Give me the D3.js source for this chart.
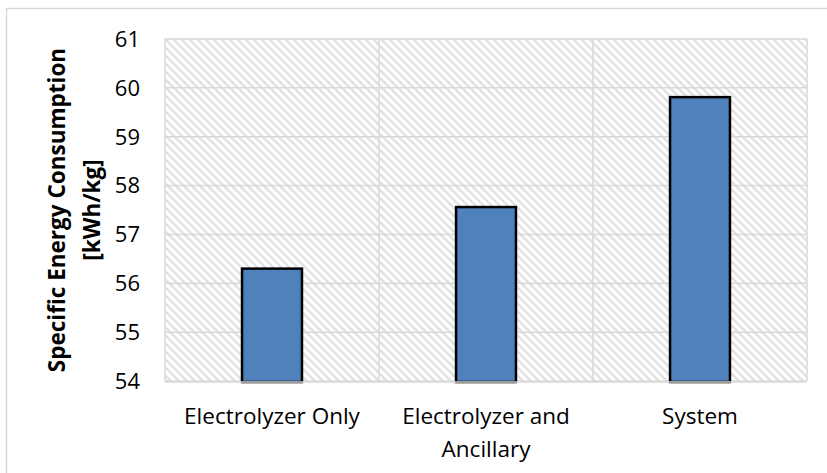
<!DOCTYPE html>
<html>
<head>
<meta charset="utf-8">
<script src="https://cdn.jsdelivr.net/npm/d3@7"></script>
<style>
  html, body { margin: 0; padding: 0; background: #fff; }
  svg { display: block; }
  text { font-family: "Open Sans", "Noto Sans", sans-serif; fill: #000; }
</style>
</head>
<body>
<svg id="chart" width="827" height="473"></svg>
<script>
const categories = [["Electrolyzer Only"], ["Electrolyzer and", "Ancillary"], ["System"]];
const values = [56.30, 57.56, 59.81];
const yTicks = [54, 55, 56, 57, 58, 59, 60, 61];
const yTitle = ["Specific Energy Consumption", "[kWh/kg]"];

const svg = d3.select("#chart");
const W = 827, H = 473;
const m = { left: 165, right: 20, top: 39, bottom: 92 };
const pw = W - m.left - m.right, ph = H - m.top - m.bottom;

// outer chart border
svg.append("rect").attr("x", 6.5).attr("y", 8.5).attr("width", 830).attr("height", 480)
  .attr("fill", "#fff").attr("stroke", "#d9d9d9").attr("stroke-width", 1.5);

const defs = svg.append("defs");
const pat = defs.append("pattern").attr("id", "hatch").attr("patternUnits", "userSpaceOnUse")
  .attr("width", 8).attr("height", 8);
pat.append("rect").attr("width", 8).attr("height", 8).attr("fill", "#fff");
pat.append("path").attr("d", "M-2,-2 L10,10 M-2,6 L2,10 M6,-2 L10,2")
  .attr("stroke", "#e2e2e2").attr("stroke-width", 2.6);

const g = svg.append("g").attr("transform", `translate(${m.left},${m.top})`);

const x = d3.scaleBand().domain(d3.range(categories.length)).range([0, pw])
  .paddingInner(0.72).paddingOuter(0.36);
const y = d3.scaleLinear().domain([54, 61]).range([ph, 0]);

g.append("rect").attr("width", pw).attr("height", ph).attr("fill", "url(#hatch)");

// horizontal gridlines
g.selectAll(".hg").data(yTicks).join("line")
  .attr("x1", 0).attr("x2", pw).attr("y1", d => y(d)).attr("y2", d => y(d))
  .attr("stroke", "#d9d9d9").attr("stroke-width", 1.5);
// vertical gridlines (category boundaries)
const step = x.step();
g.selectAll(".vg").data(d3.range(categories.length + 1)).join("line")
  .attr("x1", d => d * step).attr("x2", d => d * step).attr("y1", 0).attr("y2", ph)
  .attr("stroke", "#d9d9d9").attr("stroke-width", 1.5);

// bars
const bars = g.append("g");
bars.selectAll("rect").data(values).join("rect")
  .attr("x", (d, i) => x(i)).attr("width", x.bandwidth())
  .attr("y", d => y(d)).attr("height", d => ph - y(d) + 1)
  .attr("fill", "#4f81bd").attr("stroke", "#000").attr("stroke-width", 2.5);
// axis line covers the bottom
g.append("line").attr("x1", 0).attr("x2", pw).attr("y1", ph + 1).attr("y2", ph + 1)
  .attr("stroke", "#d9d9d9").attr("stroke-width", 1.5);
g.selectAll(".bb").data(values).join("line")
  .attr("x1", (d, i) => x(i)).attr("x2", (d, i) => x(i) + x.bandwidth())
  .attr("y1", ph + 1.5).attr("y2", ph + 1.5).attr("stroke", "#999").attr("stroke-width", 1.5);

// y tick labels
g.selectAll(".yt").data(yTicks).join("text")
  .attr("x", -25).attr("y", d => y(d)).attr("dy", "0.36em")
  .attr("text-anchor", "end").style("font-size", "22px").text(d => d);

// x labels
categories.forEach((lines, i) => {
  const t = g.append("text").attr("text-anchor", "middle").style("font-size", "22.5px")
    .attr("transform", `translate(${x(i) + x.bandwidth() / 2},${ph + 43})`);
  lines.forEach((l, j) => t.append("tspan").attr("x", 0).attr("y", j * 33).text(l));
});

// y title
const yt = svg.append("text").attr("text-anchor", "middle")
  .attr("transform", `translate(65,${m.top + ph / 2}) rotate(-90)`)
  .style("font-size", "22.5px").style("font-weight", "bold");
yTitle.forEach((l, j) => yt.append("tspan").attr("x", 0).attr("y", j * 35).text(l));
</script>
</body>
</html>
